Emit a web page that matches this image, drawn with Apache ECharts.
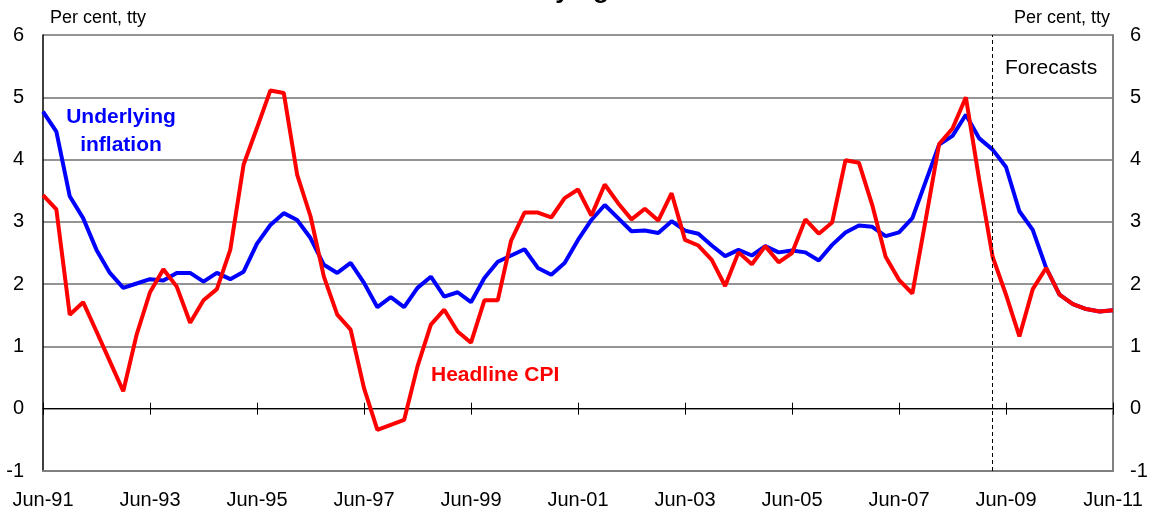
<!DOCTYPE html>
<html>
<head>
<meta charset="utf-8">
<script src="https://cdn.jsdelivr.net/npm/echarts@6/dist/echarts.min.js"></script>
<style>html,body{margin:0;background:#fff}#chart{width:1153px;height:513px}</style>
</head>
<body>
<div id="chart"></div>
<script>
// quarterly, through-the-year per cent
var quarters = [
    'Jun-91','Sep-91','Dec-91','Mar-92','Jun-92','Sep-92','Dec-92','Mar-93',
    'Jun-93','Sep-93','Dec-93','Mar-94','Jun-94','Sep-94','Dec-94','Mar-95',
    'Jun-95','Sep-95','Dec-95','Mar-96','Jun-96','Sep-96','Dec-96','Mar-97',
    'Jun-97','Sep-97','Dec-97','Mar-98','Jun-98','Sep-98','Dec-98','Mar-99',
    'Jun-99','Sep-99','Dec-99','Mar-00','Jun-00','Sep-00','Dec-00','Mar-01',
    'Jun-01','Sep-01','Dec-01','Mar-02','Jun-02','Sep-02','Dec-02','Mar-03',
    'Jun-03','Sep-03','Dec-03','Mar-04','Jun-04','Sep-04','Dec-04','Mar-05',
    'Jun-05','Sep-05','Dec-05','Mar-06','Jun-06','Sep-06','Dec-06','Mar-07',
    'Jun-07','Sep-07','Dec-07','Mar-08','Jun-08','Sep-08','Dec-08','Mar-09',
    'Jun-09','Sep-09','Dec-09','Mar-10','Jun-10','Sep-10','Dec-10','Mar-11',
    'Jun-11'
];
var underlying = [
    4.77, 4.45, 3.41, 3.06, 2.55, 2.18, 1.94, 2.01,
    2.08, 2.06, 2.18, 2.18, 2.04, 2.18, 2.08, 2.20,
    2.65, 2.95, 3.14, 3.03, 2.74, 2.31, 2.18, 2.34,
    2.02, 1.63, 1.79, 1.63, 1.94, 2.12, 1.80, 1.87,
    1.71, 2.10, 2.36, 2.46, 2.56, 2.26, 2.15, 2.34,
    2.71, 3.03, 3.27, 3.06, 2.85, 2.86, 2.82, 3.01,
    2.86, 2.81, 2.62, 2.45, 2.55, 2.46, 2.61, 2.51,
    2.54, 2.51, 2.38, 2.63, 2.83, 2.94, 2.92, 2.77,
    2.83, 3.06, 3.65, 4.24, 4.38, 4.72, 4.34, 4.16,
    3.88, 3.17, 2.87, 2.26, 1.83, 1.68, 1.60, 1.56,
    1.58
];
var headline = [
    3.43, 3.20, 1.51, 1.71, 1.24, 0.76, 0.28, 1.19,
    1.87, 2.24, 1.96, 1.38, 1.74, 1.92, 2.55, 3.92,
    4.51, 5.11, 5.07, 3.76, 3.09, 2.12, 1.51, 1.27,
    0.33, -0.34, -0.26, -0.18, 0.68, 1.35, 1.59, 1.24,
    1.06, 1.74, 1.74, 2.70, 3.15, 3.15, 3.07, 3.38,
    3.52, 3.10, 3.60, 3.30, 3.04, 3.21, 3.02, 3.46,
    2.71, 2.62, 2.39, 1.97, 2.51, 2.32, 2.61, 2.35,
    2.50, 3.04, 2.81, 2.99, 3.99, 3.95, 3.27, 2.44,
    2.07, 1.85, 3.04, 4.25, 4.50, 5.00, 3.67, 2.44,
    1.83, 1.16, 1.92, 2.26, 1.83, 1.68, 1.60, 1.56,
    1.58
];
var forecastStart = 'Mar-09';

var font = 'Liberation Sans, Arial, sans-serif';
var chart = echarts.init(document.getElementById('chart'));

// the zero line carries the ticks, drawn both ways
var zeroAxis = function (inside) {
    return {
        type: 'category',
        data: quarters,
        boundaryGap: false,
        position: 'bottom',
        axisLine: { onZero: true, onZeroAxisIndex: 0, lineStyle: { color: '#000', width: 1 } },
        axisTick: { interval: 7, inside: inside, length: 6, lineStyle: { color: '#000', width: 1 } },
        axisLabel: { show: false },
        splitLine: { show: false }
    };
};

var option = {
    animation: false,
    grid: { left: 43, right: 40, top: 35, bottom: 42 },
    xAxis: [
        {
            type: 'category',
            data: quarters,
            boundaryGap: false,
            position: 'bottom',
            axisLine: { onZero: false, lineStyle: { color: '#808080', width: 2 } },
            axisTick: { show: false },
            axisLabel: { interval: 7, margin: 19, color: '#000', fontSize: 20, fontFamily: font },
            splitLine: { show: false }
        },
        zeroAxis(false),
        zeroAxis(true)
    ],
    yAxis: [
        {
            type: 'value', min: -1, max: 6, interval: 1, position: 'left',
            axisLine: { show: true, lineStyle: { color: '#000', width: 1.5 } },
            axisTick: { show: false },
            axisLabel: { margin: 19, color: '#000', fontSize: 20, fontFamily: font },
            splitLine: { lineStyle: { color: '#707070', width: 1.5 } }
        },
        {
            type: 'value', min: -1, max: 6, interval: 1, position: 'right',
            axisLine: { show: true, lineStyle: { color: '#808080', width: 2 } },
            axisTick: { show: false },
            axisLabel: { margin: 17, color: '#000', fontSize: 20, fontFamily: font },
            splitLine: { show: false }
        }
    ],
    graphic: [
        { type: 'text', x: 512, y: -9, style: { text: 'Headline and underlying inflation', fill: '#000', font: 'bold 26px ' + font, align: 'center', verticalAlign: 'middle' } },
        { type: 'text', x: 50, y: 18, style: { text: 'Per cent, tty', fill: '#000', font: '18px ' + font, align: 'left', verticalAlign: 'middle' } },
        { type: 'text', x: 1110, y: 18, style: { text: 'Per cent, tty', fill: '#000', font: '18px ' + font, align: 'right', verticalAlign: 'middle' } },
        { type: 'text', x: 121, y: 117, style: { text: 'Underlying', fill: '#0000ff', font: 'bold 21px ' + font, align: 'center', verticalAlign: 'middle' } },
        { type: 'text', x: 121, y: 145, style: { text: 'inflation', fill: '#0000ff', font: 'bold 21px ' + font, align: 'center', verticalAlign: 'middle' } },
        { type: 'text', x: 431, y: 375, style: { text: 'Headline CPI', fill: '#ff0000', font: 'bold 21px ' + font, align: 'left', verticalAlign: 'middle' } },
        { type: 'text', x: 1005, y: 68, style: { text: 'Forecasts', fill: '#000', font: '21px ' + font, align: 'left', verticalAlign: 'middle' } }
    ],
    series: [
        {
            name: 'Underlying inflation',
            type: 'line',
            data: underlying,
            symbol: 'none',
            lineStyle: { color: '#0000ff', width: 4 },
            itemStyle: { color: '#0000ff' }
        },
        {
            name: 'Headline CPI',
            type: 'line',
            data: headline,
            symbol: 'none',
            lineStyle: { color: '#ff0000', width: 4 },
            itemStyle: { color: '#ff0000' },
            markLine: {
                symbol: 'none',
                silent: true,
                label: { show: false },
                lineStyle: { color: '#000', type: [4, 3], width: 1 },
                data: [{ xAxis: forecastStart }]
            }
        }
    ]
};
chart.setOption(option);
</script>
</body>
</html>
